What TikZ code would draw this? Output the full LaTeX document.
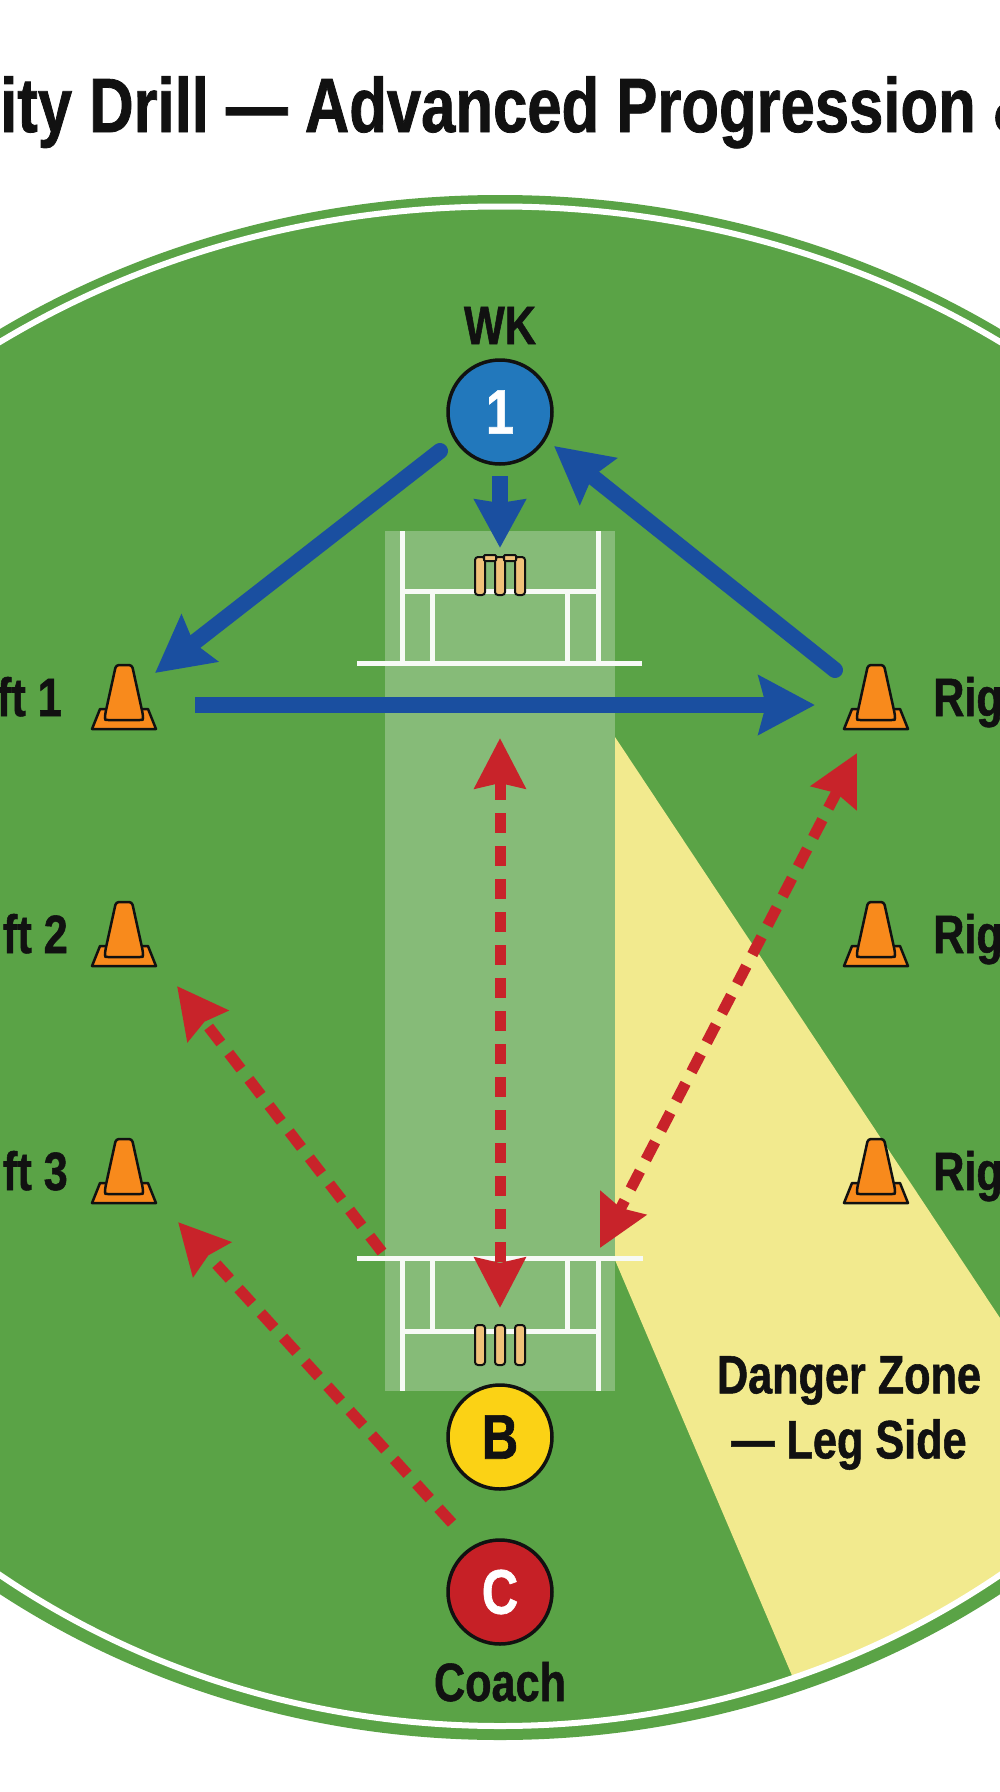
\documentclass[tikz,border=0pt]{standalone}
\usepackage{fontspec}
\setmainfont{Liberation Sans}[FakeStretch=0.8,BoldFeatures={FakeBold=1.0}]
\usetikzlibrary{arrows.meta}
\definecolor{grass}{HTML}{5AA346}
\definecolor{zone}{HTML}{F2EA8E}
\definecolor{barr}{HTML}{1A4FA0}
\definecolor{rarr}{HTML}{C8232A}
\definecolor{wkblue}{HTML}{2278BC}
\definecolor{bwyellow}{HTML}{FBD215}
\definecolor{cored}{HTML}{C62026}
\definecolor{conefill}{HTML}{F88A1C}
\definecolor{stump}{HTML}{F0C27A}
\definecolor{ink}{HTML}{111111}
\newcommand{\groundpath}[4]{(500-#1,967.5) arc [start angle=180,end angle=360,x radius=#1,y radius=#2] -- (500+#3,967.5) arc [start angle=0,end angle=180,x radius=#3,y radius=#4] -- cycle}
\tikzset{
    cone/.pic={
        \draw[draw=ink,fill=conefill,line width=2.5pt,line join=round] (-32,0) -- (32,0) -- (24,-20) -- (-24,-20) -- cycle;
        \draw[draw=ink,fill=conefill,line width=2.5pt,rounded corners=3pt] (-8,-64) -- (8,-64) -- (19,-14) .. controls (19,-9) .. (12,-9) -- (-12,-9) .. controls (-19,-9) .. (-19,-14) -- cycle;
    }
}
\begin{document}
\begin{tikzpicture}[x=1pt,y=-1pt]
    \tikzstyle{marrs}=[line width=16pt,barr,-{Stealth[width=58pt,length=56pt,inset=7pt]}]
    \tikzstyle{dasharr}=[line width=11pt,rarr,dash pattern=on 20pt off 13pt,{Stealth[width=50pt,length=50pt,inset=5pt]}-{Stealth[width=50pt,length=50pt,inset=5pt]}]
    \tikzstyle{dashone}=[line width=11pt,rarr,dash pattern=on 20pt off 13pt,-{Stealth[width=50pt,length=50pt,inset=5pt]}]
    \tikzstyle{plr}=[circle,draw=ink,line width=3.5pt,minimum size=104pt,inner sep=0pt,font=\fontsize{63}{63}\selectfont\bfseries]
    \tikzstyle{lab}=[inner sep=0pt,text=ink,font=\fontsize{54}{65}\selectfont\bfseries]
    \tikzstyle{crease}=[line width=5pt,white!95!grass]
    \tikzstyle{wick}=[draw=ink,fill=stump,line width=2pt,rounded corners=3pt]

    \clip (0,0) rectangle (1000,1792);
    \fill[white] (0,0) rectangle (1000,1792);

    % title
    \node[lab,anchor=base west,font=\fontsize{77}{77}\selectfont\bfseries] (title) at (0,132) {ity Drill — Advanced Progression \&};

    % ground
    \fill[grass] \groundpath{888}{772.5}{855}{772.5};
    \begin{scope}
        \clip \groundpath{878}{761}{835}{758.5};
        \fill[zone] (615,737) -- (1000,1318) -- (1000,1720) -- (811,1720) -- (615,1260) -- cycle;
    \end{scope}
    \draw[line width=6pt,white] \groundpath{878}{761}{835}{758.5};

    % pitch
    \fill[white,opacity=0.27] (385,531) rectangle (615,1391);
    \foreach \x in {402,598} {
        \draw[crease] (\x,531) -- (\x,663);
        \draw[crease] (\x,1258) -- (\x,1391);
    }
    \foreach \x in {432,567} {
        \draw[crease] (\x,591) -- (\x,663);
        \draw[crease] (\x,1258) -- (\x,1331);
    }
    \draw[crease] (402,591) -- (598,591);
    \draw[crease] (402,1331) -- (598,1331);
    \draw[crease] (357,663) -- (642,663);
    \draw[crease] (357,1258) -- (643,1258);

    % stumps
    \foreach \x in {480,500,520} {
        \draw[wick] (\x-5,557) rectangle (\x+5,595);
        \draw[wick] (\x-5,1325) rectangle (\x+5,1365);
    }
    \foreach \x in {490,510} {
        \draw[wick,rounded corners=1pt] (\x-6,555) rectangle (\x+6,561);
    }

    % cones
    \foreach \n/\y in {1/729, 2/966, 3/1203} {
        \pic at (124,\y) {cone};
        \pic at (876,\y) {cone};
    }

    % players
    \node[plr,fill=wkblue,text=white] (wk) at (500,412) {1};
    \node[plr,fill=bwyellow,text=ink] (bw) at (500,1437) {B};
    \node[plr,fill=cored,text=white] (co) at (500,1592) {C};

    % ends of the runs
    \coordinate (wkdown) at (500,476);
    \coordinate (wkleft) at (440,451);
    \coordinate (wkright) at (554,446);
    \coordinate (stumpup) at (500,548);
    \coordinate (leftone) at (155,673);
    \coordinate (rightone) at (835,670);
    \coordinate (crossa) at (195,705);
    \coordinate (crossb) at (815,705);
    \coordinate (pitchtop) at (500,738);
    \coordinate (pitchbot) at (500,1308);
    \coordinate (rtip) at (857,753);
    \coordinate (popr) at (600,1248);
    \coordinate (popl) at (382,1252);
    \coordinate (ltwo) at (177,986);
    \coordinate (cotop) at (452,1523);
    \coordinate (lthree) at (178,1222);

    % blue runs
    \draw[marrs,-{Stealth[width=50pt,length=48pt,inset=3pt]}] (wkdown) -- (stumpup);
    \draw[marrs,line cap=round] (wkleft) -- (leftone);
    \draw[marrs,line cap=round] (rightone) -- (wkright);
    \draw[marrs] (crossa) -- (crossb);

    % red runs
    \draw[dasharr] (pitchtop) -- (pitchbot);
    \draw[dasharr] (rtip) -- (popr);
    \draw[dashone] (popl) -- (ltwo);
    \draw[dashone] (cotop) -- (lthree);

    % labels
    \node[lab,anchor=base] (wklab) at (500,344) {WK};
    \node[lab,anchor=base] (colab) at (500,1701) {Coach};
    \node[lab,anchor=base east] (lfa) at (62,716) {ft 1};
    \node[lab,anchor=base east] (lfb) at (68,953) {ft 2};
    \node[lab,anchor=base east] (lfc) at (68,1190) {ft 3};
    \node[lab,anchor=base west] (rga) at (933,716) {Rig};
    \node[lab,anchor=base west] (rgb) at (933,953) {Rig};
    \node[lab,anchor=base west] (rgc) at (933,1190) {Rig};
    \node[lab,align=center] (dz) at (849,1413) {Danger Zone\\— Leg Side};
\end{tikzpicture}
\end{document}
